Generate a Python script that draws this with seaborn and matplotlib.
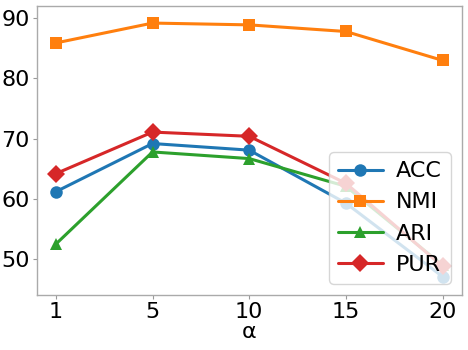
import numpy as np
import pandas as pd
import matplotlib
matplotlib.use("Agg")
import matplotlib.pyplot as plt
import seaborn as sns

alpha_labels = ["1", "5", "10", "15", "20"]
acc = [61.2, 69.2, 68.1, 59.3, 47.1]
nmi = [85.9, 89.2, 88.9, 87.8, 83.0]
ari = [52.5, 67.8, 66.7, 62.1, 49.0]
pur = [64.2, 71.1, 70.4, 62.6, 48.8]

series = {"ACC": acc, "NMI": nmi, "ARI": ari, "PUR": pur}
markers = {"ACC": "o", "NMI": "s", "ARI": "^", "PUR": "D"}

rows = []
for name, vals in series.items():
    for i, v in enumerate(vals):
        rows.append({"pos": i, "alpha": alpha_labels[i], "metric": name, "value": v})
df = pd.DataFrame(rows)

sns.set_theme(style="white")
plt.rcParams["font.family"] = ["DejaVu Sans"]
plt.rcParams["text.color"] = "black"
plt.rcParams["axes.labelcolor"] = "black"
plt.rcParams["xtick.color"] = "black"
plt.rcParams["ytick.color"] = "black"

fig, ax = plt.subplots(figsize=(4.68, 3.5), dpi=100)
palette = sns.color_palette("tab10", 4)

for (name, color) in zip(series.keys(), palette):
    sub = df[df["metric"] == name]
    sns.lineplot(data=sub, x="pos", y="value", ax=ax, color=color,
                 marker=markers[name], markersize=9, linewidth=2.2,
                 markeredgewidth=0, label=name)

ax.set_xticks(range(len(alpha_labels)))
ax.set_xticklabels(alpha_labels)
ax.set_xlim(-0.2, 4.2)
ax.set_ylim(44.1, 92.1)
ax.set_yticks([50, 60, 70, 80, 90])
ax.set_xlabel("α", fontsize=16, labelpad=0)
ax.set_ylabel("")
ax.tick_params(axis="both", labelsize=16, length=3, width=0.8,
               color="#999999", labelcolor="black", bottom=True, left=True, pad=2)
for sp in ax.spines.values():
    sp.set_color("#aaaaaa")
    sp.set_linewidth(1.0)

leg = ax.legend(loc="lower right", fontsize=16, handlelength=2.0,
                handletextpad=0.6, labelspacing=0.5, borderpad=0.4,
                framealpha=0.8)
for t in leg.get_texts():
    t.set_color("black")

plt.subplots_adjust(left=0.078, right=0.987, top=0.984, bottom=0.158)
fig.savefig("out.png", dpi=100)
